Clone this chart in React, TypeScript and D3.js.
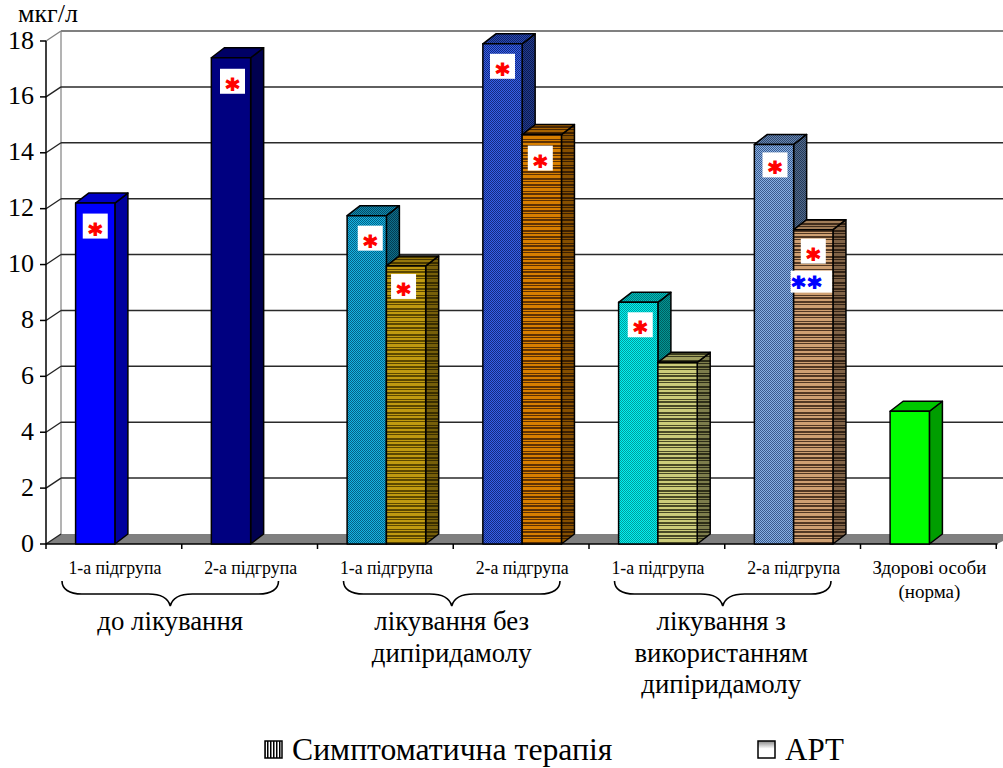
import React from "react";
import * as d3 from "d3";

// Chart values
const categories = ["1-а підгрупа", "2-а підгрупа", "1-а підгрупа ", "2-а підгрупа ", "1-а підгрупа  ", "2-а підгрупа  ", "Здорові особи"];
const symptomatic = [12.2, 17.4, 11.75, 17.9, 8.65, 14.3, 4.75];
const art = [null, null, 9.95, 14.65, 6.5, 11.25, null];
const yTicks = [0, 2, 4, 6, 8, 10, 12, 14, 16, 18];
const unitLabel = "мкг/л";
const groupLabels = [["до лікування"], ["лікування без", "дипіридамолу"], ["лікування з", "використанням", "дипіридамолу"]];
const legendLabels = ["Симптоматична терапія", "АРТ"];

// Bar fills: texture kind, light colour, dark colour
const symptomaticStyle = [
  ["solid", "#0000ff", "#0000ff"],
  ["solid", "#000080", "#000080"],
  ["dither", "#16b4e2", "#056084"],
  ["dither", "#3560e8", "#152a80"],
  ["dither", "#00f2f2", "#009a9a"],
  ["dither", "#86b0e4", "#3c5a8c"],
  ["solid", "#00ff00", "#00ff00"],
];
const artStyle = [
  null,
  null,
  ["stripes", "#c09a10", "#5c4800"],
  ["stripes", "#d87f00", "#5e3204"],
  ["stripes", "#cccc7a", "#4a4a26"],
  ["stripes", "#cfa072", "#523824"],
  null,
];

// Significance marks: [series, category, horizontal nudge, offset below the bar top]
const redMarks = [
  [0, 0, 0, 10.5], [0, 1, 1.5, 11], [0, 2, 3.5, 10], [1, 2, -2.5, 8], [0, 3, 0, 10],
  [1, 3, -1.5, 11], [0, 4, 2, 10], [0, 5, 1, 8], [1, 5, 0, 9],
];
const blueMarkNudges = [5, 21];

const WIDTH = 1003;
const HEIGHT = 768;
const SERIF = "'Liberation Serif', serif";
const MARK_FONT = "'DejaVu Sans', sans-serif";
const AXIS_X = 46;
const WALL_DX = 15;
const WALL_DY = 10;
const BAR_DX = 13;
const BAR_DY = 10;
const SHADES = [1, 0.62, 0.78];
const GROUP_SHIFT = [0, 10, 9.5];
const GROUP_TEXT_SHIFT = [0, 0, -1.5];

const y = d3.scaleLinear().domain([0, 18]).range([544, 41]);
const x = d3.scaleBand<string>().domain(categories).range([AXIS_X, AXIS_X + 135.75 * 7]);
const inner = d3.scaleBand<string>().domain(["symptomatic", "art"]).range([29.6, 108.2]);
const seriesKeys = ["symptomatic", "art"];
const seriesValues = [symptomatic, art];
const seriesStyles = [symptomaticStyle, artStyle];
const stripeSteps = [2, 2, 1, 1, 3, 1, 1, 2, 2, 2, 1, 1, 3, 2, 1, 1];

const shade = (c: string, f: number) => {
  const r = d3.rgb(c);
  return d3.rgb(r.r * f, r.g * f, r.b * f).formatHex();
};

function Texture({ id, kind, light, dark }: { id: string; kind: string; light: string; dark: string }) {
  if (kind === "dither") {
    return (
      <pattern id={id} width={2} height={2} patternUnits="userSpaceOnUse">
        <rect width={2} height={2} fill={light} />
        <rect width={1} height={1} fill={dark} />
        <rect x={1} y={1} width={1} height={1} fill={dark} />
      </pattern>
    );
  }
  let pos = 0;
  const rows = stripeSteps.map((h, i) => {
    const row = <rect key={i} y={pos} width={4} height={h} fill={i % 2 ? dark : light} />;
    pos += h;
    return row;
  });
  return (
    <pattern id={id} width={4} height={pos} patternUnits="userSpaceOnUse">
      {rows}
    </pattern>
  );
}

function Brace({ x0, x1, top }: { x0: number; x1: number; top: number }) {
  const c = (x0 + x1) / 2;
  const mid = top + 13;
  const tip = top + 25;
  const p = d3.path();
  p.moveTo(x0, top);
  p.bezierCurveTo(x0, top + 8, x0 + 7, mid, x0 + 20, mid);
  p.lineTo(c - 22, mid);
  p.bezierCurveTo(c - 9, mid, c - 2, mid + 4, c, tip);
  p.bezierCurveTo(c + 2, mid + 4, c + 9, mid, c + 22, mid);
  p.lineTo(x1 - 20, mid);
  p.bezierCurveTo(x1 - 7, mid, x1, top + 8, x1, top);
  return <path d={p.toString()} fill="none" stroke="#000" strokeWidth={1.6} />;
}

function Mark({ cx, base, fill }: { cx: number; base: number; fill: string }) {
  return (
    <text x={cx} y={base} textAnchor="middle" fontFamily={MARK_FONT} fontWeight="bold" fontSize={26} fill={fill} stroke={fill} strokeWidth={1.2}>
      *
    </text>
  );
}

export default function App() {
  const floorY = y(0);
  const band = x.bandwidth();
  const barW = inner.bandwidth();
  const bars = categories.flatMap((cat, ci) =>
    seriesKeys.flatMap((key, si) => {
      const v = seriesValues[si][ci];
      const st = seriesStyles[si][ci];
      if (v == null || !st) return [];
      return [{ id: `b${si}-${ci}`, si, ci, v, st, x0: (x(cat) as number) + (inner(key) as number), top: y(v) }];
    })
  );
  const barAt = (si: number, ci: number) => bars.find((b) => b.si === si && b.ci === ci)!;
  const blueBar = barAt(1, 5);

  return (
    <svg width={WIDTH} height={HEIGHT} style={{ position: "absolute", left: 0, top: 0, background: "#fff" }} fontFamily={SERIF}>
      <defs>
        {bars.flatMap((b) =>
          SHADES.map((f, i) =>
            b.st[0] === "solid" ? null : (
              <Texture key={`${b.id}-${i}`} id={`${b.id}-${i}`} kind={b.st[0]} light={shade(b.st[1], f)} dark={shade(b.st[2], f)} />
            )
          )
        )}
        <pattern id="legend-bars" width={3} height={3} patternUnits="userSpaceOnUse">
          <rect width={3} height={3} fill="#fff" />
          <rect width={1.5} height={3} fill="#000" />
        </pattern>
        <linearGradient id="legend-art" x1="0" x2="0" y1="0" y2="1">
          <stop offset="0" stopColor="#888" />
          <stop offset="0.45" stopColor="#fff" />
        </linearGradient>
      </defs>

      {/* Back wall and floor */}
      <line x1={AXIS_X + WALL_DX} x2={AXIS_X + WALL_DX} y1={y(18) - WALL_DY} y2={floorY - WALL_DY} stroke="#9a9a9a" strokeWidth={1.5} />
      <polygon
        points={`${AXIS_X},${floorY} ${AXIS_X + WALL_DX},${floorY - WALL_DY} ${WIDTH},${floorY - WALL_DY} ${WIDTH},${floorY - 3} 997,${floorY}`}
        fill="#808080"
      />
      {yTicks.map((t) => (
        <g key={t}>
          <line
            x1={AXIS_X}
            y1={y(t)}
            x2={AXIS_X + WALL_DX}
            y2={y(t) - WALL_DY}
            stroke={t === 18 ? "#808080" : "#222"}
            strokeWidth={1.3}
          />
          {t > 0 && (
            <line
              x1={AXIS_X + WALL_DX}
              x2={WIDTH}
              y1={y(t) - WALL_DY}
              y2={y(t) - WALL_DY}
              stroke={t === 18 ? "#808080" : "#2a2a2a"}
              strokeWidth={t === 18 ? 2 : 1.5}
            />
          )}
        </g>
      ))}

      {/* Axes */}
      <line x1={AXIS_X} x2={AXIS_X} y1={y(18)} y2={floorY} stroke="#000" strokeWidth={1.5} />
      <line x1={AXIS_X} x2={997.5} y1={floorY} y2={floorY} stroke="#000" strokeWidth={1.5} />
      {yTicks.map((t) => (
        <g key={t}>
          <line x1={AXIS_X - 6} x2={AXIS_X} y1={y(t)} y2={y(t)} stroke="#000" strokeWidth={1.5} />
          <text x={34} y={y(t) + 7.5} textAnchor="end" fontSize={26} fill="#000">
            {t}
          </text>
        </g>
      ))}
      {d3.range(8).map((i) => (
        <line key={i} x1={AXIS_X + band * i} x2={AXIS_X + band * i} y1={floorY} y2={floorY + 5} stroke="#000" strokeWidth={1.5} />
      ))}
      <text x={18} y={22} fontSize={26} fill="#000">
        {unitLabel}
      </text>

      {/* Bars with their side and top faces */}
      {bars.map((b) => {
        const fill = (i: number) => (b.st[0] === "solid" ? shade(b.st[1], SHADES[i]) : `url(#${b.id}-${i})`);
        const xr = b.x0 + barW;
        return (
          <g key={b.id} stroke="#000" strokeWidth={1.5} strokeLinejoin="round">
            <polygon
              points={`${xr},${floorY} ${xr + BAR_DX},${floorY - BAR_DY} ${xr + BAR_DX},${b.top - BAR_DY} ${xr},${b.top}`}
              fill={fill(1)}
            />
            <polygon
              points={`${b.x0},${b.top} ${b.x0 + BAR_DX},${b.top - BAR_DY} ${xr + BAR_DX},${b.top - BAR_DY} ${xr},${b.top}`}
              fill={fill(2)}
            />
            <rect x={b.x0} y={b.top} width={barW} height={floorY - b.top} fill={fill(0)} />
          </g>
        );
      })}

      {/* Significance marks */}
      {redMarks.map(([si, ci, dx, dy]) => {
        const b = barAt(si, ci);
        const bx = b.x0 + barW / 2 - 12.5 + dx;
        return (
          <g key={`${si}-${ci}`}>
            <rect x={bx} y={b.top + dy} width={25} height={25} fill="#fff" />
            <Mark cx={bx + 12.5} base={b.top + dy + 29} fill="#ff0000" />
          </g>
        );
      })}
      <rect x={blueBar.x0 - 3} y={blueBar.top + 41} width={41.5} height={22} fill="#fff" />
      {blueMarkNudges.map((n) => (
        <Mark key={n} cx={blueBar.x0 + n} base={blueBar.top + 66} fill="#0000ff" />
      ))}

      {/* Category labels */}
      {categories.map((c, i) => (
        <text key={i} x={(x(c) as number) + band / 2 + 1} y={574} textAnchor="middle" fontSize={i === 6 ? 19 : 17.8} fill="#000">
          {c.trim()}
        </text>
      ))}
      <text x={(x(categories[6]) as number) + band / 2 + 1} y={598} textAnchor="middle" fontSize={19} fill="#000">
        (норма)
      </text>

      {/* Treatment groups */}
      {groupLabels.map((lines, g) => {
        const start = (x(categories[g * 2]) as number) + GROUP_SHIFT[g];
        const end = start + band * 2;
        return (
          <g key={g}>
            <Brace x0={start + 16} x1={end - 39} top={581} />
            {lines.map((line, k) => (
              <text key={k} x={(start + end - 23) / 2 + GROUP_TEXT_SHIFT[g]} y={630 + k * 31.5} textAnchor="middle" fontSize={26.8} fill="#000">
                {line}
              </text>
            ))}
          </g>
        );
      })}

      {/* Legend */}
      <rect x={265} y={741} width={17} height={17} fill="url(#legend-bars)" stroke="#000" strokeWidth={1.5} />
      <text x={292} y={760} fontSize={31.7} fill="#000">
        {legendLabels[0]}
      </text>
      <rect x={758} y={741} width={17} height={17} fill="url(#legend-art)" stroke="#000" strokeWidth={1.5} />
      <text x={785} y={760} fontSize={31} fill="#000">
        {legendLabels[1]}
      </text>
    </svg>
  );
}
